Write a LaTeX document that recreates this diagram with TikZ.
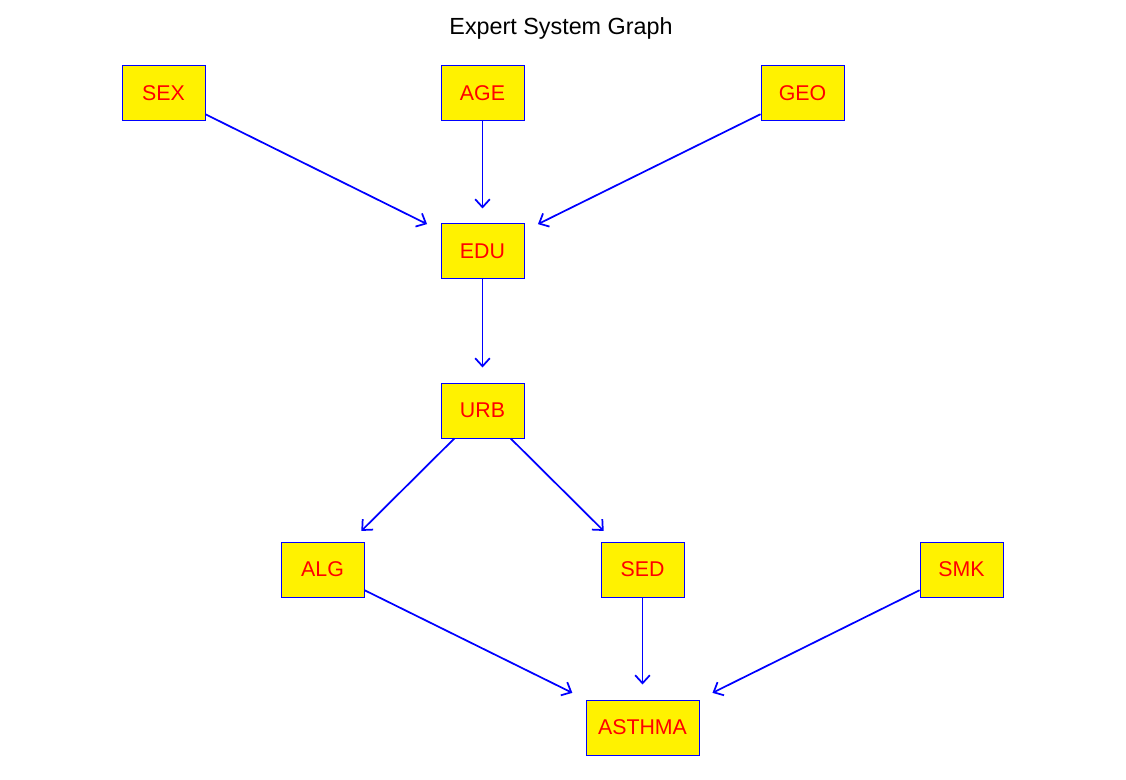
\documentclass[tikz,border=0pt]{standalone}
\usepackage{fontspec}
\setmainfont{Liberation Sans}
\usetikzlibrary{arrows.meta}

\begin{document}
\begin{tikzpicture}[
    x=0.75pt,y=-0.75pt,
    arco/.style={draw=blue,line width=1.3pt,-{Straight Barb[length=6pt,width=11pt]},shorten >=11.25pt},
    nodo/.style={draw=blue,fill=yellow,text=red,line width=0.75pt,minimum width=62.25pt,minimum height=41.25pt,inner sep=0pt,font=\fontsize{16}{19}\selectfont},
    titolo/.style={font=\fontsize{17.5}{21}\selectfont}]

  \useasboundingbox (0,0) rectangle (1126,780);

  % ---- titolo ----------------------------------------------------------
  \node[titolo] (tit) at (561,28) {Expert System Graph};

  % ---- nodi ------------------------------------------------------------
  \node[nodo] (sex) at (163.5, 93.5) {SEX};
  \node[nodo] (age) at (482.5, 93.5) {AGE};
  \node[nodo] (geo) at (802.5, 93.5) {GEO};

  \node[nodo] (edu) at (482.5,251.5) {EDU};
  \node[nodo] (urb) at (482.5,410.5) {URB};

  \node[nodo] (alg) at (322.5,569.5) {ALG};
  \node[nodo] (sed) at (642.5,569.5) {SED};
  \node[nodo] (smk) at (961.5,569.5) {SMK};

  \node[nodo,minimum width=84.75pt] (ast) at (642.5,727.5) {ASTHMA};

  % ---- archi -----------------------------------------------------------
  \draw[arco] (sex) -- (edu);
  \draw[arco] (age) -- (edu);
  \draw[arco] (geo) -- (edu);
  \draw[arco] (edu) -- (urb);
  \draw[arco] (urb) -- (alg);
  \draw[arco] (urb) -- (sed);
  \draw[arco] (alg) -- (ast);
  \draw[arco] (sed) -- (ast);
  \draw[arco] (smk) -- (ast);

\end{tikzpicture}
\end{document}
